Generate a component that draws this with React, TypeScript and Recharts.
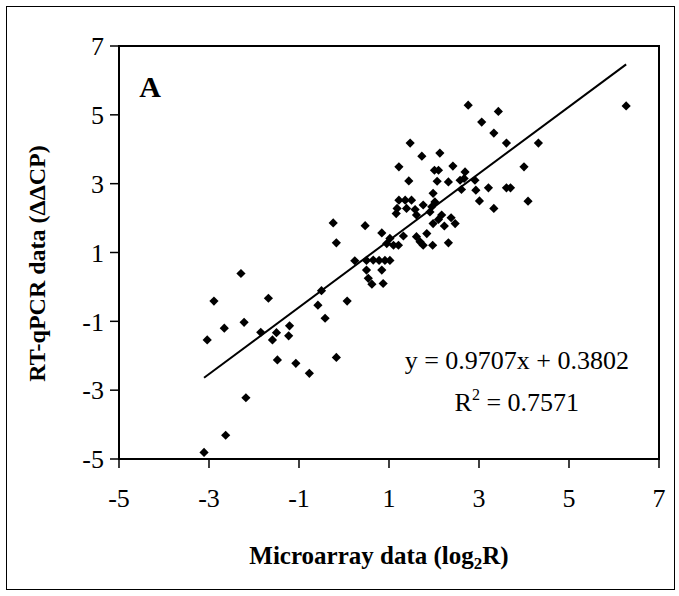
import React from 'react';
import { ScatterChart, Scatter, XAxis, YAxis, ReferenceLine, ReferenceArea, ReferenceDot } from 'recharts';

// Microarray (log2R) values
const microarray = [
  -3.11, -2.63, -2.18, -3.04, -2.89, -2.66, -2.29, -2.22, -1.85, -1.68,
  -1.59, -1.50, -1.48, -1.23, -1.21, -1.07, -0.77, -0.58, -0.50, -0.42,
  -0.17, 0.07, -0.24, -0.17, 0.24, 0.47, 0.50, 0.65, 0.78, 0.91,
  1.02, 0.50, 0.84, 0.54, 0.62, 0.87, 0.84, 0.95, 1.02, 1.10,
  1.21, 1.32, 1.61, 1.69, 1.76, 1.84, 1.97, 2.32, 1.18, 1.16,
  1.22, 1.36, 1.50, 1.39, 1.58, 1.61, 1.76, 1.95, 2.02, 1.91,
  1.98, 2.17, 2.10, 1.98, 2.38, 2.47, 2.23, 1.22, 1.44, 1.47,
  1.73, 2.13, 2.01, 2.10, 2.42, 2.69, 2.07, 2.32, 2.58, 2.67,
  2.91, 2.61, 2.93, 3.21, 3.61, 3.70, 3.01, 3.33, 2.76, 3.43,
  3.06, 3.33, 3.61, 4.32, 4.00, 4.09, 6.27,
];
// RT-qPCR (ΔΔCP) values
const rtqpcr = [
  -4.81, -4.31, -3.22, -1.54, -0.41, -1.20, 0.39, -1.03, -1.32, -0.33,
  -1.54, -1.33, -2.12, -1.42, -1.13, -2.22, -2.51, -0.53, -0.11, -0.91,
  -2.05, -0.41, 1.86, 1.28, 0.76, 1.78, 0.77, 0.78, 0.77, 0.77,
  0.77, 0.49, 0.49, 0.25, 0.08, 0.10, 1.57, 1.26, 1.41, 1.21,
  1.21, 1.48, 1.46, 1.31, 1.21, 1.55, 1.21, 1.28, 2.28, 2.13,
  2.52, 2.52, 2.52, 2.28, 2.25, 2.09, 2.38, 2.33, 2.47, 2.18,
  2.72, 2.09, 1.96, 1.84, 2.01, 1.84, 1.77, 3.49, 3.08, 4.18,
  3.80, 3.89, 3.39, 3.39, 3.51, 3.34, 3.07, 3.05, 3.10, 3.15,
  3.10, 2.83, 2.81, 2.88, 2.88, 2.88, 2.50, 2.28, 5.28, 5.10,
  4.79, 4.47, 4.18, 4.18, 3.49, 2.49, 5.26,
];

const xTicks = [-5, -3, -1, 1, 3, 5, 7];
const yTicks = [-5, -3, -1, 1, 3, 5, 7];
const slope = 0.9707;
const intercept = 0.3802;
const equationText = 'y = 0.9707x + 0.3802';
const r2Value = '0.7571';
const panelLabel = 'A';

const points = microarray.map((x, i) => ({ x, y: rtqpcr[i] }));
const xMin = Math.min(...microarray);
const xMax = Math.max(...microarray);

const FONT = "'Liberation Serif', 'Times New Roman', serif";

const Diamond = (props: any) => {
  const { cx, cy } = props;
  if (cx == null || cy == null) return null;
  const r = 4.6;
  return <path d={`M${cx},${cy - r}L${cx + r},${cy}L${cx},${cy + r}L${cx - r},${cy}Z`} fill="#000" />;
};

const XLabel = (props: any) => {
  const vb = props.viewBox || {};
  const cx = vb.x + vb.width / 2 - 10;
  return (
    <text x={cx} y={vb.y + 105} textAnchor="middle" fontFamily={FONT} fontWeight="bold" fontSize={25} fill="#000">
      Microarray data (log<tspan fontSize={17} dy={5}>2</tspan><tspan dy={-5}>R)</tspan>
    </text>
  );
};

const YLabel = (props: any) => {
  const vb = props.viewBox || {};
  const cy = vb.y + vb.height / 2 + 11;
  const x = 45;
  return (
    <text x={x} y={cy} transform={`rotate(-90, ${x}, ${cy})`} textAnchor="middle" fontFamily={FONT} fontWeight="bold" fontSize={24} fill="#000">
      RT-qPCR data (ΔΔCP)
    </text>
  );
};

const PanelText = (props: any) => {
  const vb = props.viewBox || {};
  return (
    <text x={vb.x} y={vb.y + 10} textAnchor="middle" fontFamily={FONT} fontWeight="bold" fontSize={30} fill="#000">
      {panelLabel}
    </text>
  );
};

const EqText = (props: any) => {
  const vb = props.viewBox || {};
  return (
    <text x={vb.x} y={vb.y + 9} textAnchor="middle" fontFamily={FONT} fontSize={26} fill="#000">
      {equationText}
    </text>
  );
};

const R2Text = (props: any) => {
  const vb = props.viewBox || {};
  return (
    <text x={vb.x} y={vb.y + 9} textAnchor="middle" fontFamily={FONT} fontSize={26} fill="#000">
      R<tspan fontSize={16} dy={-11}>2</tspan><tspan dy={11}> = {r2Value}</tspan>
    </text>
  );
};

export default function App() {
  return (
    <div style={{ position: 'absolute', left: 0, top: 0, width: 679, height: 596, background: '#fff' }}>
      <div style={{ position: 'absolute', left: 6, top: 6, width: 669, height: 584, border: '1px solid #000', boxSizing: 'border-box' }} />
      <ScatterChart width={679} height={596} margin={{ top: 46, right: 20, left: 0, bottom: 0 }} style={{ position: 'absolute', left: 0, top: 0 }}>
        <XAxis
          type="number"
          dataKey="x"
          domain={[-5, 7]}
          ticks={xTicks}
          interval={0}
          allowDataOverflow
          height={137}
          tickSize={9}
          tickMargin={21}
          axisLine={{ stroke: '#000', strokeWidth: 2 }}
          tickLine={{ stroke: '#000', strokeWidth: 1.5 }}
          tick={{ fill: '#000', fontSize: 26, fontFamily: FONT }}
          label={<XLabel />}
        />
        <YAxis
          type="number"
          dataKey="y"
          domain={[-5, 7]}
          ticks={yTicks}
          interval={0}
          allowDataOverflow
          width={119}
          tickSize={9}
          tickMargin={6}
          axisLine={{ stroke: '#000', strokeWidth: 2 }}
          tickLine={{ stroke: '#000', strokeWidth: 1.5 }}
          tick={{ fill: '#000', fontSize: 26, fontFamily: FONT }}
          label={<YLabel />}
        />
        <ReferenceArea x1={-5} x2={7} y1={-5} y2={7} fill="none" stroke="#000" strokeWidth={2} />
        <ReferenceLine
          segment={[{ x: xMin, y: slope * xMin + intercept }, { x: xMax, y: slope * xMax + intercept }]}
          stroke="#000"
          strokeWidth={2}
        />
        <Scatter data={points} shape={<Diamond />} isAnimationActive={false} />
        <ReferenceDot x={-4.31} y={5.8} r={0} fill="none" stroke="none" label={<PanelText />} />
        <ReferenceDot x={3.84} y={-2.12} r={0} fill="none" stroke="none" label={<EqText />} />
        <ReferenceDot x={3.84} y={-3.33} r={0} fill="none" stroke="none" label={<R2Text />} />
      </ScatterChart>
    </div>
  );
}
